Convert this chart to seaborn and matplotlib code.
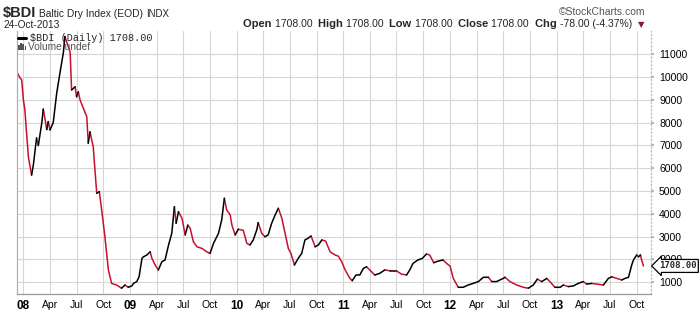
import numpy as np
import pandas as pd
import matplotlib
matplotlib.use("Agg")
import matplotlib.pyplot as plt
from matplotlib.lines import Line2D
from matplotlib.patches import Rectangle
import seaborn as sns

# ---------------- data ----------------
dates = [
    "2007-12-09", "2007-12-20", "2007-12-26", "2008-01-01", "2008-01-06", "2008-01-18", "2008-01-29",
    "2008-02-04", "2008-02-15", "2008-02-21", "2008-03-04", "2008-03-09", "2008-03-21", "2008-03-26",
    "2008-04-01", "2008-04-12", "2008-04-24", "2008-05-05", "2008-05-17", "2008-05-22", "2008-06-09",
    "2008-06-14", "2008-06-26", "2008-07-01", "2008-07-07", "2008-07-13", "2008-08-05", "2008-08-10",
    "2008-08-16", "2008-08-27", "2008-09-08", "2008-09-17", "2008-09-25", "2008-10-06", "2008-10-18",
    "2008-10-29", "2008-11-15", "2008-12-02", "2008-12-14", "2008-12-25",
    "2009-01-06", "2009-01-12", "2009-01-23", "2009-01-31", "2009-02-10", "2009-02-15", "2009-02-27",
    "2009-03-10", "2009-03-16", "2009-03-27", "2009-04-07", "2009-04-19", "2009-04-30", "2009-05-12",
    "2009-05-23", "2009-06-01", "2009-06-07", "2009-06-15", "2009-06-27", "2009-07-08", "2009-07-17",
    "2009-07-25", "2009-08-05", "2009-08-17", "2009-09-03", "2009-09-20", "2009-10-01", "2009-10-13",
    "2009-10-30", "2009-11-10", "2009-11-19", "2009-11-27", "2009-12-09", "2009-12-15", "2009-12-26",
    "2010-01-06", "2010-01-23", "2010-02-04", "2010-02-15", "2010-02-26", "2010-03-10", "2010-03-15",
    "2010-03-27", "2010-04-07", "2010-04-18", "2010-04-30", "2010-05-12", "2010-05-23", "2010-06-04",
    "2010-06-15", "2010-06-26", "2010-07-05", "2010-07-17", "2010-07-30", "2010-08-11", "2010-08-22",
    "2010-09-01", "2010-09-12", "2010-09-26", "2010-10-07", "2010-10-19", "2010-11-01", "2010-11-16",
    "2010-12-03", "2010-12-14", "2010-12-26",
    "2011-01-06", "2011-01-23", "2011-01-31", "2011-02-13", "2011-02-26", "2011-03-10", "2011-03-21",
    "2011-04-01", "2011-04-18", "2011-05-05", "2011-05-22", "2011-06-08", "2011-07-01", "2011-07-18",
    "2011-08-05", "2011-08-16", "2011-08-27", "2011-09-13", "2011-09-28", "2011-10-12", "2011-10-23",
    "2011-11-06", "2011-11-21", "2011-12-08", "2011-12-20",
    "2012-01-01", "2012-01-12", "2012-01-29", "2012-02-15", "2012-03-03", "2012-03-20", "2012-04-07",
    "2012-04-24", "2012-05-11", "2012-05-23", "2012-06-08", "2012-07-01", "2012-07-07", "2012-07-24",
    "2012-08-16", "2012-09-08", "2012-09-25", "2012-10-12", "2012-10-26", "2012-11-10", "2012-11-27",
    "2012-12-08", "2012-12-25",
    "2013-01-12", "2013-01-23", "2013-02-09", "2013-02-26", "2013-03-15", "2013-04-01", "2013-04-13",
    "2013-04-30", "2013-05-17", "2013-06-09", "2013-06-26", "2013-07-08", "2013-07-25", "2013-08-11",
    "2013-08-22", "2013-09-03", "2013-09-14", "2013-09-20", "2013-10-01", "2013-10-07", "2013-10-14",
    "2013-10-18", "2013-10-24",
]
bdi = [
    10240, 9980, 9880, 9000, 8560, 6500, 5700,
    6140, 7330, 7000, 8000, 8600, 7700, 8050,
    7680, 8000, 9300, 10180, 11100, 11790, 11100,
    9440, 9580, 9140, 9360, 9000, 8260, 7100,
    7600, 6950, 4900, 4970, 4170, 3000, 1530,
    940, 870, 730, 870, 770,
    830, 940, 1020, 1230, 2040, 2110, 2190,
    2330, 2040, 1750, 1530, 1890, 1970, 2630,
    3140, 4310, 3580, 4090, 3800, 3070, 3500,
    3360, 2770, 2550, 2480, 2330, 2260, 2700,
    3140, 3730, 4680, 4170, 3950, 3500, 3070,
    3320, 3270, 2700, 2630, 2850, 3290, 3610,
    3140, 2990, 3070, 3580, 3950, 4240, 3800,
    3140, 2480, 2260, 1750, 2040, 2260, 2850,
    2920, 3020, 2550, 2630, 2850, 2800, 2330,
    2190, 2140, 1890,
    1550, 1160, 1060, 1310, 1310, 1600, 1670,
    1530, 1310, 1380, 1530, 1500, 1500, 1350,
    1310, 1530, 1820, 1970, 2040, 2230, 2190,
    1850, 1920, 1970, 1820,
    1700, 1160, 770, 770, 870, 940, 1020,
    1210, 1210, 1020, 1020, 1160, 1210, 1020,
    870, 770, 730, 870, 1130, 1020, 1160,
    1020, 770,
    770, 870, 800, 830, 940, 1020, 910,
    940, 910, 870, 1160, 1230, 1160, 1090,
    1160, 1210, 1750, 1970, 2190, 2110, 2190,
    1970, 1708,
]
y_ticks = [1000, 2000, 3000, 4000, 5000, 6000, 7000, 8000, 9000, 10000, 11000]
quarter_starts = pd.date_range("2008-01-01", "2013-10-01", freq="QS")
month_names = {1: None, 4: "Apr", 7: "Jul", 10: "Oct"}

symbol = "$BDI"
name = "Baltic Dry Index (EOD)"
exchange = "INDX"
date_label = "24-Oct-2013"
last_close = 1708.00
quote_fields = [("Open", "1708.00"), ("High", "1708.00"), ("Low", "1708.00"),
                ("Close", "1708.00"), ("Chg", "-78.00 (-4.37%)")]

# ---------------- build up / down runs ----------------
df = pd.DataFrame({"date": pd.to_datetime(dates), "value": bdi})
rows = []
run = 0
direction = None
for i in range(1, len(df)):
    d = "up" if df.value[i] >= df.value[i - 1] else "down"
    if d != direction:
        run += 1
        direction = d
        rows.append((df.date[i - 1], df.value[i - 1], run, d))
    rows.append((df.date[i], df.value[i], run, d))
seg = pd.DataFrame(rows, columns=["date", "value", "run", "dir"])

# ---------------- figure ----------------
W, H = 700, 312
sns.set_theme(style="white")
plt.rcParams["font.family"] = ["Liberation Sans", "DejaVu Sans"]
fig = plt.figure(figsize=(W / 100, H / 100), dpi=100)
fig.patch.set_facecolor("white")
ax = fig.add_axes([16.7 / W, 1 - 294 / H, (650.7 - 16.7) / W, (294 - 31) / H])
ax.set_facecolor("white")

red = "#c8102e"
sns.lineplot(data=seg, x="date", y="value", hue="dir", units="run", estimator=None,
             palette={"up": "black", "down": red}, linewidth=1.1, legend=False,
             sort=False, ax=ax)

ax.set_xlim(pd.Timestamp("2007-12-09"), pd.Timestamp("2013-11-18"))
ax.set_ylim(475, 12030)
ax.set_xlabel("")
ax.set_ylabel("")

# x ticks
ax.set_xticks(quarter_starts)
xlabels = [f"{d.year % 100:02d}" if d.month == 1 else month_names[d.month] for d in quarter_starts]
ax.set_xticklabels(xlabels)
for d, lab in zip(quarter_starts, ax.get_xticklabels()):
    lab.set_fontweight("bold" if d.month == 1 else "normal")
    lab.set_fontsize(8.5 if d.month == 1 else 7.5)
ax.tick_params(axis="x", length=0, pad=4, colors="black")

# y ticks on right
ax.yaxis.tick_right()
ax.set_yticks(y_ticks)
ax.set_yticklabels([str(v) for v in y_ticks])
ax.tick_params(axis="y", length=2, pad=4, labelsize=7.5, colors="#aaaaaa", labelcolor="black")

ax.grid(True, color="#d6d6d6", linewidth=0.8)
ax.set_axisbelow(True)
ax.spines["top"].set_visible(False)
ax.spines["left"].set_color("#b0b0b0")
ax.spines["bottom"].set_color("#999999")
ax.spines["right"].set_color("#bbbbbb")
ax.spines["right"].set_linestyle((0, (1, 2)))
for s in ["left", "bottom", "right"]:
    ax.spines[s].set_linewidth(0.9)

# last price marker on the right
ax.annotate(f"{last_close:.2f}", xy=(1.0, last_close), xycoords=("axes fraction", "data"),
            xytext=(8, 0), textcoords="offset pixels", ha="left", va="center",
            fontsize=6.5, fontweight="bold", family="DejaVu Sans Mono",
            bbox=dict(boxstyle="larrow,pad=0.22", fc="white", ec="black", lw=0.9),
            annotation_clip=False, zorder=5)

# ---------------- header texts ----------------
renderer = fig.canvas.get_renderer()


def fx(x):
    return x / W


def fy(y):
    return 1 - y / H


def run_text(x0, y, pieces):
    x = x0
    for txt, kw in pieces:
        t = fig.text(fx(x), fy(y), txt, ha="left", va="baseline", parse_math=False, **kw)
        x += t.get_window_extent(renderer).width
    return x


run_text(3, 17, [(symbol, dict(fontsize=10.5, fontweight="bold")),
                 (" " + name + " ", dict(fontsize=7.4)),
                 (exchange, dict(fontsize=7.0))])
fig.text(fx(3), fy(27.5), date_label, fontsize=7.3, ha="left", va="baseline")
fig.text(fx(645), fy(15), "\u00a9StockCharts.com", fontsize=7.5, color="#555555",
         ha="right", va="baseline")

pieces = []
for k, v in quote_fields:
    pieces.append((k + " ", dict(fontsize=8, fontweight="bold")))
    pieces.append((v + "  ", dict(fontsize=7.5)))
pieces.append(("\u25bc", dict(fontsize=6, color="#8b1538", family="DejaVu Sans")))
run_text(243, 27, pieces)

# in-chart legend
fig.add_artist(Line2D([fx(18), fx(26)], [fy(37.5), fy(37.5)], color="black", lw=2.2))
fig.text(fx(30), fy(41), f"{symbol} (Daily) {last_close:.2f}", fontsize=7.3,
         family="Liberation Mono", ha="left", va="baseline", parse_math=False)
for i, hgt in enumerate([5, 7, 6, 4]):
    fig.add_artist(Rectangle((fx(18 + i * 2.2), fy(50)), 1.6 / W, hgt / H,
                             color="#555555", lw=0))
fig.text(fx(28), fy(50), "Volume undef", fontsize=7.3, color="#555555",
         ha="left", va="baseline")

fig.savefig("out.png", dpi=100, facecolor="white")
